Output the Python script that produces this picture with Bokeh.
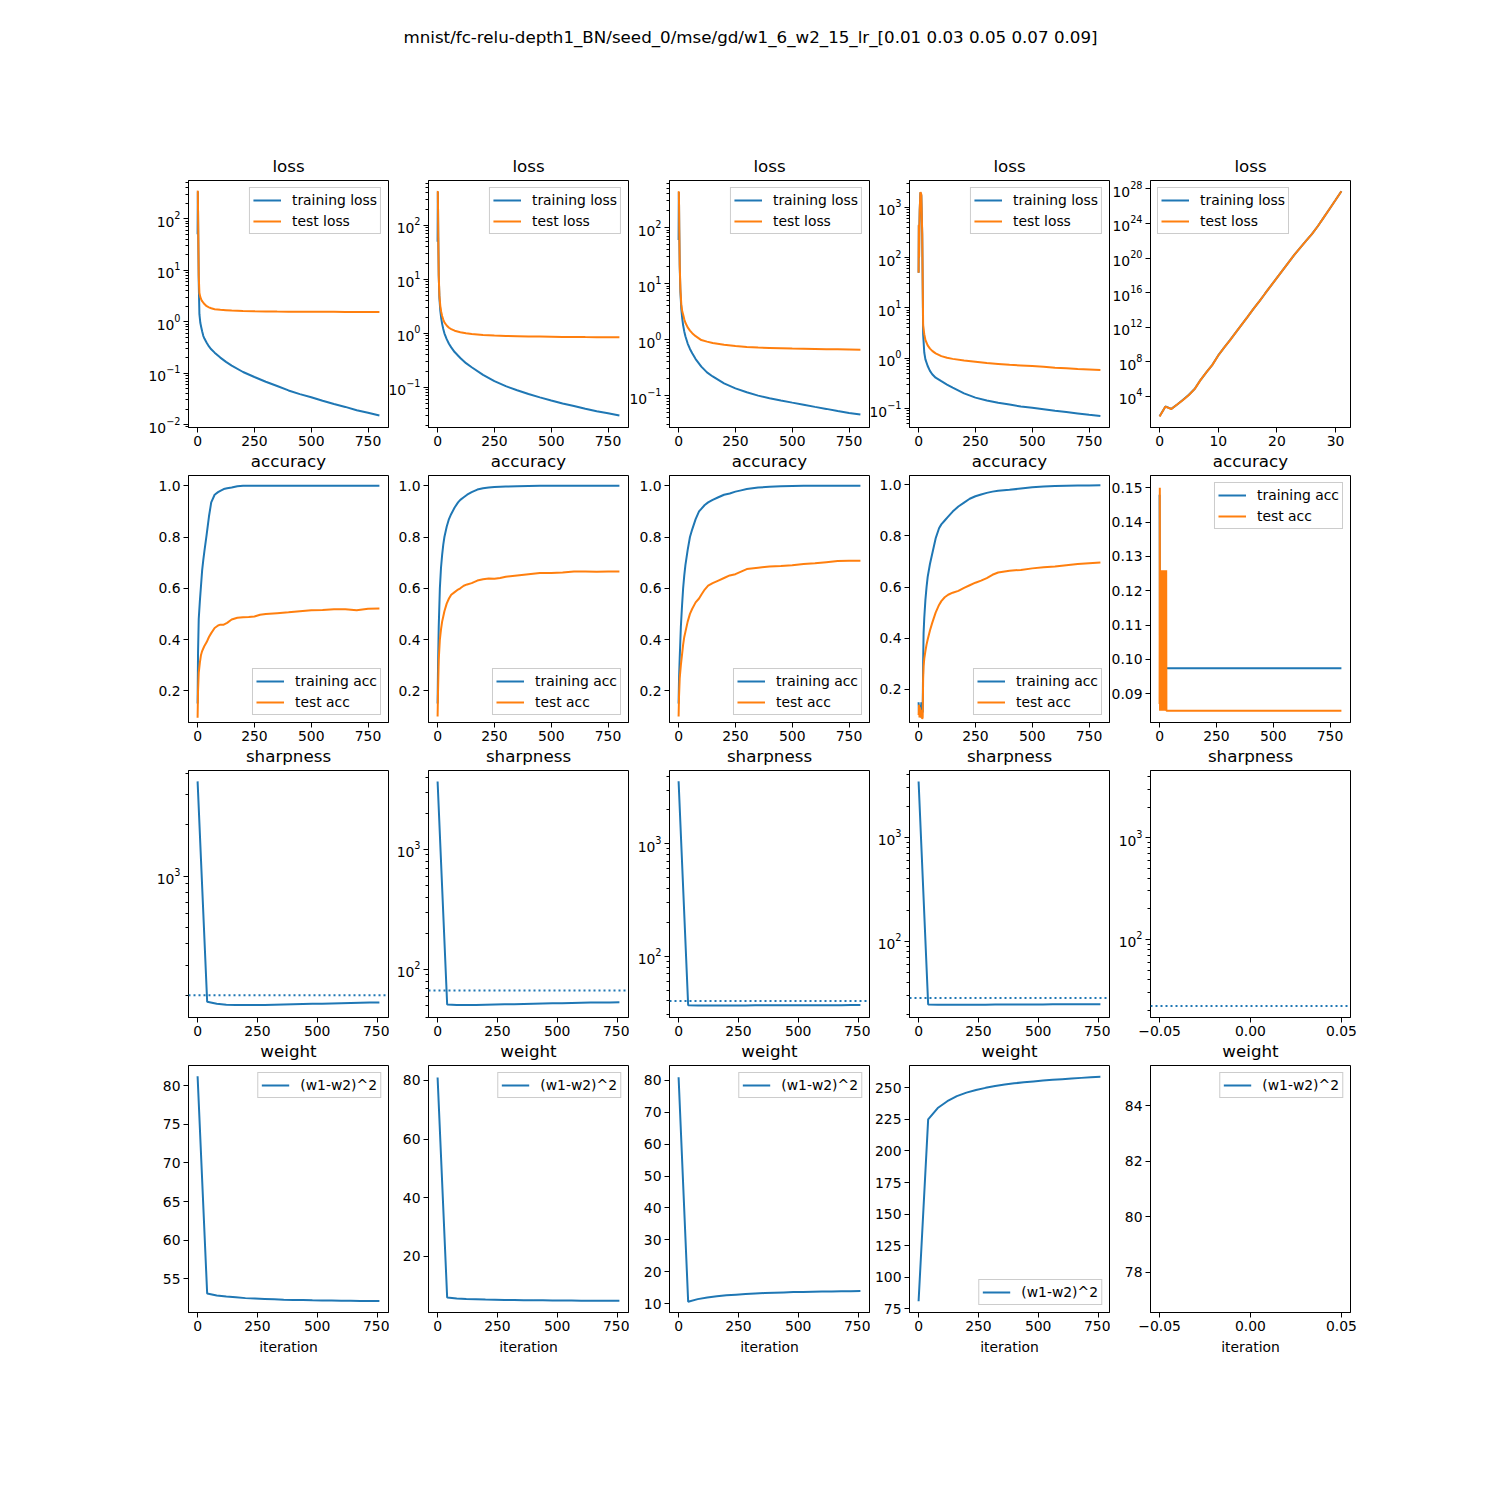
import math
from bokeh.plotting import figure
from bokeh.models import Range1d, FixedTicker, Span
from bokeh.layouts import row, column
from bokeh.embed import file_html
from bokeh.resources import INLINE
from bokeh.core.properties import value

# ---------------- data ----------------
SUPTITLE = "mnist/fc-relu-depth1_BN/seed_0/mse/gd/w1_6_w2_15_lr_[0.01 0.03 0.05 0.07 0.09]"
LR = [0.01, 0.03, 0.05, 0.07, 0.09]

loss_iters = [0, 1, 2, 3, 5, 8, 12, 16, 20, 25, 30, 40, 50, 60, 75, 100, 125, 150, 200,
              250, 300, 350, 400, 450, 500, 550, 600, 650, 700, 750, 800]
train_loss_1 = [50, 340, 140, 45, 6.0, 1.4, 0.95, 0.78, 0.65, 0.53, 0.47, 0.39, 0.33, 0.29, 0.25,
                0.20, 0.165, 0.14, 0.105, 0.084, 0.068, 0.056, 0.046, 0.039, 0.034, 0.029, 0.025,
                0.022, 0.019, 0.017, 0.015]
test_loss_1 = [340, 350, 150, 50, 8.0, 3.6, 3.0, 2.7, 2.5, 2.35, 2.2, 2.0, 1.9, 1.82, 1.75, 1.70,
               1.67, 1.64, 1.61, 1.59, 1.58, 1.57, 1.565, 1.56, 1.56, 1.555, 1.555, 1.55, 1.55,
               1.55, 1.55]
train_loss_2 = [50, 420, 200, 60, 12, 4.5, 2.6, 1.9, 1.5, 1.2, 1.0, 0.78, 0.64, 0.55, 0.45, 0.35,
                0.28, 0.235, 0.17, 0.13, 0.105, 0.088, 0.075, 0.065, 0.057, 0.05, 0.045, 0.04,
                0.036, 0.033, 0.03]
test_loss_2 = [420, 430, 200, 60, 12, 5.0, 3.2, 2.5, 2.1, 1.8, 1.6, 1.4, 1.27, 1.2, 1.12, 1.05,
               1.0, 0.97, 0.93, 0.91, 0.895, 0.885, 0.875, 0.87, 0.865, 0.86, 0.855, 0.852, 0.85,
               0.848, 0.845]
train_loss_3 = [60, 430, 250, 90, 20, 7.0, 3.5, 2.4, 1.8, 1.4, 1.15, 0.85, 0.68, 0.57, 0.45, 0.33,
                0.26, 0.22, 0.165, 0.135, 0.115, 0.1, 0.09, 0.082, 0.075, 0.069, 0.063, 0.058,
                0.053, 0.049, 0.046]
test_loss_3 = [430, 440, 260, 95, 22, 8.0, 4.2, 3.2, 2.8, 2.3, 2.0, 1.65, 1.45, 1.3, 1.15, 0.98,
               0.92, 0.87, 0.81, 0.77, 0.74, 0.72, 0.71, 0.70, 0.69, 0.685, 0.68, 0.675, 0.67,
               0.665, 0.66]
train_loss_4 = [50, 440, 100, 290, 880, 1950, 1700, 280, 3.0, 1.3, 0.95, 0.7, 0.56, 0.48, 0.41,
                0.35, 0.3, 0.26, 0.2, 0.165, 0.145, 0.13, 0.12, 0.11, 0.104, 0.097, 0.09, 0.085,
                0.08, 0.075, 0.071]
test_loss_4 = [50, 450, 100, 300, 900, 2000, 1800, 300, 4.5, 3.0, 2.3, 1.8, 1.55, 1.4, 1.25, 1.1,
               1.02, 0.97, 0.9, 0.85, 0.8, 0.77, 0.74, 0.72, 0.70, 0.68, 0.65, 0.63, 0.61, 0.595,
               0.58]
loss5_iters = [0, 1, 2, 3, 4, 5, 6, 7, 8, 9, 10, 11, 12, 13, 14, 15, 16, 17, 18, 19, 20, 21, 22,
               23, 24, 25, 26, 27, 28, 29, 30, 31]
train_loss_5 = [5.2e1, 6.9e2, 3.7e2, 1.2e3, 4.2e3, 1.6e4, 7.8e4, 8.5e5, 6.5e6, 4.6e7, 5.5e8,
                4.5e9, 3.2e10, 2.5e11, 2.0e12, 1.6e13, 1.3e14, 1.0e15, 8.0e15, 6.3e16, 5.0e17,
                4.0e18, 3.2e19, 2.5e20, 1.6e21, 1.0e22, 6.3e22, 5.0e23, 5.0e24, 5.0e25, 5.0e26,
                5.2e27]
test_loss_5 = [5.0e1, 6.8e2, 3.6e2, 1.2e3, 4.0e3, 1.5e4, 7.5e4, 8.3e5, 6.4e6, 4.5e7, 5.4e8,
               4.4e9, 3.1e10, 2.5e11, 2.0e12, 1.6e13, 1.3e14, 1.0e15, 8.0e15, 6.3e16, 5.0e17,
               4.0e18, 3.2e19, 2.5e20, 1.6e21, 1.0e22, 6.3e22, 5.0e23, 5.0e24, 5.0e25, 5.0e26,
               5.2e27]

acc_iters = [0, 2, 5, 10, 15, 20, 25, 30, 40, 50, 60, 75, 90, 100, 115, 130, 150, 175, 200, 225,
             250, 275, 300, 350, 400, 450, 500, 550, 600, 650, 700, 750, 800]
train_acc_1 = [0.15, 0.35, 0.48, 0.55, 0.61, 0.67, 0.71, 0.745, 0.81, 0.88, 0.935, 0.965, 0.975,
               0.98, 0.987, 0.99, 0.993, 0.998, 1.0, 1.0, 1.0, 1.0, 1.0, 1.0, 1.0, 1.0, 1.0, 1.0,
               1.0, 1.0, 1.0, 1.0, 1.0]
test_acc_1 = [0.095, 0.20, 0.27, 0.31, 0.34, 0.355, 0.365, 0.375, 0.39, 0.41, 0.425, 0.445, 0.455,
              0.458, 0.458, 0.465, 0.478, 0.485, 0.487, 0.488, 0.49, 0.497, 0.50, 0.503, 0.506,
              0.51, 0.514, 0.515, 0.518, 0.518, 0.514, 0.52, 0.521]
train_acc_2 = [0.15, 0.3, 0.45, 0.6, 0.68, 0.73, 0.77, 0.8, 0.84, 0.87, 0.89, 0.915, 0.935, 0.945,
               0.955, 0.965, 0.975, 0.985, 0.99, 0.993, 0.995, 0.996, 0.997, 0.998, 0.999, 1.0,
               1.0, 1.0, 1.0, 1.0, 1.0, 1.0, 1.0]
test_acc_2 = [0.10, 0.2, 0.32, 0.4, 0.44, 0.47, 0.49, 0.51, 0.54, 0.56, 0.575, 0.585, 0.595, 0.6,
              0.61, 0.615, 0.62, 0.63, 0.635, 0.638, 0.637, 0.64, 0.645, 0.65, 0.655, 0.66, 0.66,
              0.662, 0.665, 0.665, 0.664, 0.665, 0.665]
train_acc_3 = [0.15, 0.25, 0.33, 0.45, 0.53, 0.6, 0.65, 0.69, 0.75, 0.8, 0.83, 0.87, 0.9, 0.91,
               0.925, 0.935, 0.945, 0.955, 0.965, 0.97, 0.977, 0.982, 0.987, 0.993, 0.996, 0.998,
               0.999, 1.0, 1.0, 1.0, 1.0, 1.0, 1.0]
test_acc_3 = [0.10, 0.18, 0.25, 0.3, 0.34, 0.38, 0.41, 0.43, 0.47, 0.5, 0.52, 0.545, 0.56, 0.575,
              0.595, 0.61, 0.62, 0.63, 0.64, 0.65, 0.655, 0.665, 0.675, 0.68, 0.685, 0.687, 0.69,
              0.695, 0.698, 0.702, 0.706, 0.707, 0.707]
acc4_iters = [0, 2, 4, 6, 8, 10, 12, 14, 16, 18, 20, 22, 25, 30, 35, 40, 50, 60, 75, 90, 100,
              115, 130, 150, 175, 200, 225, 250, 275, 300, 325, 350, 400, 450, 500, 550, 600,
              650, 700, 750, 800]
train_acc_4 = [0.15, 0.10, 0.14, 0.10, 0.13, 0.09, 0.15, 0.10, 0.12, 0.11, 0.30, 0.42, 0.48,
               0.55, 0.60, 0.64, 0.69, 0.73, 0.79, 0.83, 0.845, 0.86, 0.875, 0.895, 0.915, 0.93,
               0.945, 0.955, 0.962, 0.968, 0.973, 0.976, 0.98, 0.985, 0.99, 0.993, 0.995, 0.996,
               0.997, 0.997, 0.998]
test_acc_4 = [0.10, 0.14, 0.09, 0.13, 0.09, 0.12, 0.09, 0.11, 0.085, 0.09, 0.24, 0.29, 0.32,
              0.35, 0.375, 0.395, 0.43, 0.46, 0.50, 0.53, 0.545, 0.56, 0.57, 0.578, 0.585, 0.597,
              0.607, 0.617, 0.625, 0.635, 0.648, 0.657, 0.664, 0.667, 0.673, 0.677, 0.68, 0.685,
              0.69, 0.693, 0.696]
train_acc5_iters = [0, 1, 2, 800]
train_acc_5 = [0.148, 0.128, 0.0974, 0.0974]
test_acc5_iters = [0, 1, 2, 3, 4, 5, 6, 7, 8, 9, 10, 11, 12, 13, 14, 15, 16, 17, 18, 19, 20, 21,
                   22, 23, 24, 25, 26, 27, 28, 29, 30, 31, 800]
test_acc_5 = [0.087, 0.150, 0.085, 0.126, 0.085, 0.126, 0.085, 0.126, 0.085, 0.126, 0.085,
              0.126, 0.085, 0.126, 0.085, 0.126, 0.085, 0.126, 0.085, 0.126, 0.085, 0.126,
              0.085, 0.126, 0.085, 0.126, 0.085, 0.126, 0.085, 0.126, 0.085, 0.085, 0.085]

sample_iters = [0, 40, 80, 120, 160, 200, 240, 280, 320, 360, 400, 440, 480, 520, 560, 600, 640,
                680, 720, 760]
sharp_1 = [3600, 183, 178, 176, 175, 175, 175, 175.5, 176, 176.5, 177, 177.5, 178, 178.5, 179,
           179.5, 180, 180.5, 181, 181.5]
sharp_2 = [3690, 51, 50.5, 50.5, 50.6, 50.8, 51, 51.2, 51.4, 51.6, 51.8, 52, 52.2, 52.4, 52.6,
           52.8, 53, 53.1, 53.2, 53.3]
sharp_3 = [3600, 36.6, 36.5, 36.5, 36.5, 36.5, 36.5, 36.5, 36.6, 36.6, 36.6, 36.6, 36.6, 36.7,
           36.7, 36.7, 36.7, 36.7, 36.8, 36.8]
sharp_4 = [3450, 24.8, 24.7, 24.7, 24.7, 24.7, 24.7, 24.7, 24.8, 24.8, 24.8, 24.8, 24.8, 24.8,
           24.9, 24.9, 24.9, 24.9, 25.0, 25.0]
sharp_threshold = [200, 66.7, 40, 28.6, 22.2]   # 2 / lr

weight_1 = [81.2, 53.1, 52.85, 52.7, 52.6, 52.5, 52.45, 52.4, 52.35, 52.3, 52.27, 52.25, 52.22,
            52.2, 52.18, 52.16, 52.15, 52.14, 52.13, 52.12]
weight_2 = [81, 6.0, 5.7, 5.5, 5.4, 5.3, 5.25, 5.2, 5.15, 5.1, 5.07, 5.04, 5.0, 4.98, 4.96, 4.94,
            4.92, 4.9, 4.88, 4.87]
weight_3 = [81, 10.6, 11.4, 11.9, 12.3, 12.6, 12.8, 13.0, 13.15, 13.3, 13.4, 13.5, 13.6, 13.65,
            13.7, 13.75, 13.8, 13.85, 13.9, 13.95]
weight_4 = [81, 225, 234, 239.4, 243.4, 246.2, 248.3, 250, 251.4, 252.6, 253.6, 254.4, 255.1,
            255.8, 256.4, 256.9, 257.4, 257.9, 258.3, 258.7]
weight5_iters = [0]
weight_5 = [81]

# tick values / labels
iter_ticks = [0, 250, 500, 750]
iter_labels = ["0", "250", "500", "750"]
loss5_ticks = [0, 10, 20, 30]
loss5_labels = ["0", "10", "20", "30"]
empty_ticks = [-0.05, 0.0, 0.05]
empty_labels = ["\u22120.05", "0.00", "0.05"]
acc_ticks = [0.2, 0.4, 0.6, 0.8, 1.0]
acc_labels = ["0.2", "0.4", "0.6", "0.8", "1.0"]
acc5_ticks = [0.09, 0.10, 0.11, 0.12, 0.13, 0.14, 0.15]
acc5_labels = ["0.09", "0.10", "0.11", "0.12", "0.13", "0.14", "0.15"]
loss_yticks = [[1e-2, 1e-1, 1, 10, 100], [0.1, 1, 10, 100], [0.1, 1, 10, 100],
               [0.1, 1, 10, 100, 1000], [1e4, 1e8, 1e12, 1e16, 1e20, 1e24, 1e28]]
sharp_yticks = [[1000], [100, 1000], [100, 1000], [100, 1000], [100, 1000]]
weight_yticks = [[55, 60, 65, 70, 75, 80], [20, 40, 60, 80], [10, 20, 30, 40, 50, 60, 70, 80],
                 [75, 100, 125, 150, 175, 200, 225, 250], [78, 80, 82, 84]]
weight_ylabels = [[str(t) for t in ts] for ts in weight_yticks]

# axis ranges
loss_yr = [(0.00875, 556), (0.018, 680), (0.027, 690), (0.042, 3400), (2.6, 9.1e28)]
acc_yr = [(0.0763, 1.040), (0.0763, 1.040), (0.0763, 1.040), (0.0706, 1.036), (0.0816, 0.1536)]
sharp_yr = [(148, 4170), (39.8, 4550), (28.5, 4490), (18.6, 4400), (17.1, 4590)]
weight_yr = [(50.64, 82.6), (0.9, 85.1), (7.2, 84.7), (72.1, 267.7), (76.55, 85.45)]
xr_800 = (-40, 840)
xr_31 = (-1.55, 32.55)
xr_760 = (-38, 798)
xr_empty = (-0.055, 0.055)

# ---------------- styling ----------------
BLUE = "#1f77b4"
ORANGE = "#ff7f0e"
FONT = "DejaVu Sans"
TICK_PX = "13.9px"
TITLE_PX = "16.7px"
OVER = 12                      # horizontal overlap between neighbouring cells
LEFT = [188, 39 + OVER, 40 + OVER, 39 + OVER, 40 + OVER]
RIGHT = [1, 1, 1, 1, 20]
FW, FH = 200, 247
TOP, BOT, BOT_LAST = 32, 24, 62
PITCH = 295                    # vertical distance between rows
VOVER = TOP + FH + BOT - PITCH  # vertical overlap between rows
HEADER_H = 180 - TOP


def log_minor(lo, hi):
    out = []
    for e in range(int(math.floor(math.log10(lo))) - 1, int(math.ceil(math.log10(hi))) + 1):
        for m in range(2, 10):
            v = m * 10.0 ** e
            if lo <= v <= hi:
                out.append(v)
    return out


def panel(c, r, title, xr, yr, xticks, xlabels, yticks, ylabels=None, log=False,
          minor=True, xlabel=None):
    bot = BOT_LAST if r == 3 else BOT
    mb = 0 if r == 3 else -VOVER
    p = figure(width=LEFT[c] + FW + RIGHT[c], height=TOP + FH + bot,
               x_range=Range1d(*xr), y_range=Range1d(*yr),
               y_axis_type="log" if log else "linear",
               output_backend="svg", toolbar_location=None, title=title,
               min_border_left=LEFT[c], min_border_right=RIGHT[c],
               min_border_top=TOP, min_border_bottom=bot,
               margin=(0, -OVER if c < 4 else 0, mb, 0))
    p.title.align = "center"
    p.title.text_font = FONT
    p.title.text_font_size = TITLE_PX
    p.title.text_font_style = "normal"
    p.title.text_color = "black"
    p.title.standoff = 9
    p.xgrid.visible = False
    p.ygrid.visible = False
    p.background_fill_color = "white"
    p.border_fill_color = None
    p.outline_line_color = "black"
    p.outline_line_alpha = 1.0
    p.outline_line_width = 1
    p.xaxis.ticker = FixedTicker(ticks=xticks, minor_ticks=[])
    p.xaxis.major_label_overrides = {t: l for t, l in zip(xticks, xlabels)}
    if log:
        mn = log_minor(*yr) if minor else []
        p.yaxis.ticker = FixedTicker(ticks=yticks, minor_ticks=mn)
    else:
        p.yaxis.ticker = FixedTicker(ticks=yticks, minor_ticks=[])
        p.yaxis.major_label_overrides = {t: l for t, l in zip(yticks, ylabels)}
    for ax in (p.xaxis[0], p.yaxis[0]):
        ax.axis_line_color = "black"
        ax.major_tick_line_color = "black"
        ax.minor_tick_line_color = "black"
        ax.major_tick_out = 5
        ax.major_tick_in = 0
        ax.minor_tick_out = 3
        ax.minor_tick_in = 0
        ax.major_label_standoff = 3
        ax.major_label_text_font = FONT
        ax.major_label_text_font_size = TICK_PX
        ax.major_label_text_color = "black"
    if xlabel:
        p.xaxis.axis_label = xlabel
        p.xaxis.axis_label_text_font = FONT
        p.xaxis.axis_label_text_font_size = TICK_PX
        p.xaxis.axis_label_text_font_style = "normal"
        p.xaxis.axis_label_text_color = "black"
        p.xaxis.axis_label_standoff = 5
    return p


def style_legend(p, loc):
    lg = p.legend[0]
    lg.location = loc
    lg.border_line_color = "#cccccc"
    lg.border_line_alpha = 1.0
    lg.background_fill_alpha = 0.8
    lg.label_text_font = FONT
    lg.label_text_font_size = TICK_PX
    lg.label_text_color = "black"
    lg.glyph_width = 28
    lg.glyph_height = 18
    lg.label_height = 18
    lg.label_standoff = 11
    lg.spacing = 3
    lg.padding = 3
    lg.margin = 7


# ---------------- row 1: loss ----------------
train_losses = [train_loss_1, train_loss_2, train_loss_3, train_loss_4, train_loss_5]
test_losses = [test_loss_1, test_loss_2, test_loss_3, test_loss_4, test_loss_5]
row1 = []
for c in range(5):
    if c < 4:
        xs, xr, xt, xl = loss_iters, xr_800, iter_ticks, iter_labels
    else:
        xs, xr, xt, xl = loss5_iters, xr_31, loss5_ticks, loss5_labels
    p = panel(c, 0, "loss", xr, loss_yr[c], xt, xl, loss_yticks[c], log=True, minor=(c < 4))
    p.line(xs, train_losses[c], color=BLUE, line_width=2, legend_label="training loss")
    p.line(xs, test_losses[c], color=ORANGE, line_width=2, legend_label="test loss")
    style_legend(p, "top_right" if c < 4 else "top_left")
    row1.append(p)

# ---------------- row 2: accuracy ----------------
acc_x_train = [acc_iters, acc_iters, acc_iters, acc4_iters, train_acc5_iters]
acc_x_test = [acc_iters, acc_iters, acc_iters, acc4_iters, test_acc5_iters]
train_accs = [train_acc_1, train_acc_2, train_acc_3, train_acc_4, train_acc_5]
test_accs = [test_acc_1, test_acc_2, test_acc_3, test_acc_4, test_acc_5]
row2 = []
for c in range(5):
    yt, yl = (acc_ticks, acc_labels) if c < 4 else (acc5_ticks, acc5_labels)
    p = panel(c, 1, "accuracy", xr_800, acc_yr[c], iter_ticks, iter_labels, yt, yl)
    p.line(acc_x_train[c], train_accs[c], color=BLUE, line_width=2, legend_label="training acc")
    p.line(acc_x_test[c], test_accs[c], color=ORANGE, line_width=2, legend_label="test acc")
    style_legend(p, "bottom_right" if c < 4 else "top_right")
    row2.append(p)

# ---------------- row 3: sharpness ----------------
sharps = [sharp_1, sharp_2, sharp_3, sharp_4, None]
row3 = []
for c in range(5):
    if c < 4:
        xr, xt, xl = xr_760, iter_ticks, iter_labels
    else:
        xr, xt, xl = xr_empty, empty_ticks, empty_labels
    p = panel(c, 2, "sharpness", xr, sharp_yr[c], xt, xl, sharp_yticks[c], log=True)
    if sharps[c] is not None:
        p.line(sample_iters, sharps[c], color=BLUE, line_width=2)
    p.add_layout(Span(location=sharp_threshold[c], dimension="width", line_color=BLUE,
                      line_width=2, line_dash="2 3"))
    row3.append(p)

# ---------------- row 4: weight ----------------
weights = [weight_1, weight_2, weight_3, weight_4, weight_5]
weight_x = [sample_iters, sample_iters, sample_iters, sample_iters, weight5_iters]
row4 = []
for c in range(5):
    if c < 4:
        xr, xt, xl = xr_760, iter_ticks, iter_labels
    else:
        xr, xt, xl = xr_empty, empty_ticks, empty_labels
    p = panel(c, 3, "weight", xr, weight_yr[c], xt, xl, weight_yticks[c], weight_ylabels[c],
              xlabel="iteration")
    p.line(weight_x[c], weights[c], color=BLUE, line_width=2, legend_label="(w1-w2)^2")
    style_legend(p, "bottom_right" if c == 3 else "top_right")
    row4.append(p)

# ---------------- header ----------------
hdr = figure(width=1500, height=HEADER_H, x_range=Range1d(0, 1500), y_range=Range1d(0, HEADER_H),
             x_axis_location=None, y_axis_location=None, toolbar_location=None,
             output_backend="svg", min_border=0)
hdr.outline_line_color = None
hdr.border_fill_color = None
hdr.xgrid.visible = False
hdr.ygrid.visible = False
hdr.text(x=[750], y=[HEADER_H - 36], text=[SUPTITLE], text_align="center", text_baseline="middle",
         text_font=value(FONT), text_font_size=TITLE_PX, text_color="black")

layout = column(hdr, row(*row1), row(*row2), row(*row3), row(*row4))
open("out.html", "w").write(file_html(layout, INLINE))
